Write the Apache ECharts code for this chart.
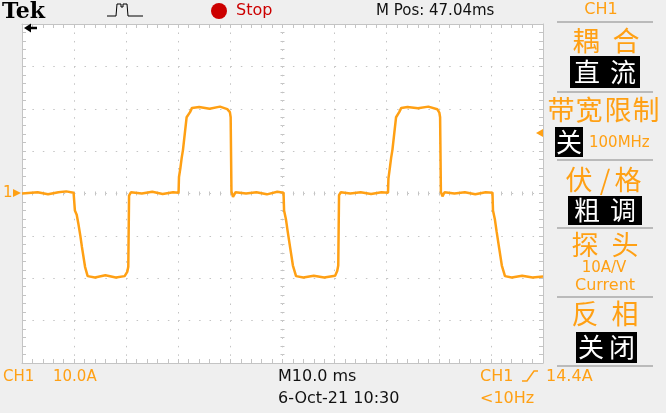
<!DOCTYPE html>
<html><head><meta charset="utf-8">
<script src="https://cdn.jsdelivr.net/npm/echarts@6/dist/echarts.min.js"></script>
<style>html,body{margin:0;padding:0;background:#efefef;}#c{width:666px;height:413px;}</style>
</head><body><div id="c"></div>
<script>
// ---- data (time relative to screen centre, ms ; current, A) ----
const timeRangeMs = [-50, 50];
const timePerDivMs = 10;
const currentRangeA = [-40, 40];
const ampsPerDiv = 10;
const traceSamples = [
 [-50,0],[-47,0.3],[-45,-0.2],[-43,0.3],[-41.5,0.5],[-40.1,0.2],
 [-39.85,-4],[-39.5,-5],[-39.2,-7],[-38.8,-10],[-38.5,-12.6],[-37.9,-17.3],[-37.4,-19.5],
 [-36,-19.8],[-34,-19.3],[-32,-19.8],[-30.3,-19.5],[-29.8,-18.5],[-29.6,-17.3],[-29.45,-0.5],[-29.1,0.3],
 [-27,0],[-25,0.4],[-23,-0.1],[-21,0.3],[-19.95,0.2],
 [-19.87,3.9],[-19.6,6],[-19.35,8.4],[-19.1,10.3],[-18.4,18],[-17.75,19.2],[-17.37,20.2],
 [-16,20.4],[-14,20],[-12,20.5],[-10.6,19.9],[-10.1,19.2],[-9.95,18],[-9.8,0.5],[-9.5,-0.8],[-9,0.3],
 [-7,0],[-5,0.3],[-3,-0.2],[-1,0.4],[0.2,0.2],
 [0.3,-4],[0.65,-6],[1.0,-9],[1.5,-13],[2.0,-17],[2.6,-19.5],
 [4,-19.8],[6,-19.4],[8,-19.8],[10.1,-19.4],[10.5,-18.3],[10.7,-17],[10.85,-0.4],[11.2,0.3],
 [13,0],[15,0.3],[17,-0.1],[19,0.3],[20.25,0.2],
 [20.33,3.5],[20.6,6],[20.85,8.4],[21.1,10.3],[21.8,18],[22.4,19.2],[22.8,20.2],
 [24,20.4],[26,20.1],[28,20.5],[29.7,19.9],[30.1,19.1],[30.25,18],[30.4,0.4],[30.7,-0.7],[31.1,0.3],
 [33,0],[35,0.3],[37,-0.2],[39,0.3],[40.3,0.2],
 [40.4,-4],[40.75,-6],[41.1,-9],[41.6,-13],[42.1,-17],[42.7,-19.5],
 [44,-19.8],[46,-19.4],[48,-19.8],[50,-19.6]
];
const headerTexts = ['Tek', 'Stop', 'M Pos: 47.04ms', 'CH1'];
const footerTexts = ['CH1', '10.0A', 'M10.0 ms', '6-Oct-21 10:30', 'CH1', '14.4A', '<10Hz'];

// ---- styles ----
const ORANGE = '#FFA014';
const GRIDC = '#C4C4C4';
const SANS = '"DejaVu Sans", sans-serif';
const CJK = '"Noto Sans CJK SC", sans-serif';

function txt(text, x, y, size, color, align, extra) {
  return Object.assign({
    type: 'text', x: x, y: y, z: 100,
    style: Object.assign({
      text: text, fill: color, font: size + 'px ' + SANS,
      textAlign: align || 'left', align: align || 'left',
      textVerticalAlign: 'middle', verticalAlign: 'middle'
    }, extra && extra.style || {})
  }, extra && extra.el || {});
}
function cjk(chars, centers, y, size, color) {
  return chars.split('').map((ch, i) => ({
    type: 'text', x: centers[i], y: y, z: 100,
    style: { text: ch, fill: color, font: size + 'px ' + CJK,
      textAlign: 'center', align: 'center', textVerticalAlign: 'middle', verticalAlign: 'middle' }
  }));
}
function box(x, y, w, h) {
  return { type: 'rect', z: 90, shape: { x: x, y: y, width: w, height: h }, style: { fill: '#000' } };
}
function hline(x1, x2, y) {
  return { type: 'rect', z: 95, shape: { x: x1, y: y - 0.75, width: x2 - x1, height: 1.5 }, style: { fill: '#A9A9A9' } };
}

const elements = [].concat(
  [
    txt(headerTexts[0], 2, 12, 22, '#000', 'left', { style: { font: 'bold 22px "DejaVu Serif", serif' } }),
    { type: 'polyline', z: 100, shape: { points: [[107,16],[116,16],[117,4],[121,4],[121,7],[123,7],[123,4],[127,4],[128,16],[143,16]] },
      style: { stroke: '#000', lineWidth: 1, fill: null } },
    { type: 'circle', z: 100, shape: { cx: 219, cy: 11, r: 8 }, style: { fill: '#CC0000' } },
    txt(headerTexts[1], 236, 11, 16, '#CC0000'),
    txt(headerTexts[2], 376, 11, 15, '#111'),
    txt(headerTexts[3], 601, 10, 16, ORANGE, 'center'),
    // separators
    hline(557, 653, 22), hline(557, 653, 92), hline(557, 653, 160), hline(557, 653, 228), hline(557, 653, 297), hline(557, 653, 366),
    box(570, 56, 70, 32), box(555, 127, 28, 30), box(568, 196, 74, 29), box(576, 332, 61, 31),
    txt('100MHz', 589, 143, 15, ORANGE),
    txt('10A/V', 604, 268, 15, ORANGE, 'center'),
    txt('Current', 605, 286, 16, ORANGE, 'center'),
    // footer
    txt(footerTexts[0], 3, 377, 15, ORANGE),
    txt(footerTexts[1], 53, 377, 15, ORANGE),
    txt(footerTexts[2], 278, 377, 16, '#111'),
    txt(footerTexts[3], 278, 399, 16, '#111'),
    txt(footerTexts[4], 480, 377, 16, ORANGE),
    { type: 'polyline', z: 100, shape: { points: [[522,381],[527,381],[534,371],[538,371]] }, style: { stroke: ORANGE, lineWidth: 1.5, fill: null } },
    txt(footerTexts[5], 546, 377, 16, ORANGE),
    txt(footerTexts[6], 480, 399, 16, ORANGE),
    // markers
    txt('1', 3, 193, 15, ORANGE),
    { type: 'polygon', z: 100, shape: { points: [[13,189],[21,193],[13,197]] }, style: { fill: ORANGE } },
    { type: 'polygon', z: 100, shape: { points: [[536,133],[543,129],[543,137]] }, style: { fill: ORANGE } },
    { type: 'polygon', z: 100, shape: { points: [[24,28],[31,23.5],[31,32.5]] }, style: { fill: '#000' } },
    { type: 'line', z: 100, shape: { x1: 29, y1: 28, x2: 37, y2: 28 }, style: { stroke: '#000', lineWidth: 2.5 } }
  ],
  cjk('耦合', [586, 626], 41, 27, ORANGE),
  cjk('直流', [587, 623], 72, 26, '#fff'),
  cjk('带宽限制', [561, 589, 618, 646], 110, 27, ORANGE),
  cjk('关', [569], 142, 26, '#fff'),
  cjk('伏/格', [579, 605, 628], 180, 27, ORANGE),
  cjk('粗调', [587, 623], 210, 26, '#fff'),
  cjk('探头', [585, 625], 245, 27, ORANGE),
  cjk('反相', [585, 625], 314, 27, ORANGE),
  cjk('关闭', [591, 622], 347, 26, '#fff')
);

function borderX(pos) {
  return { type: 'value', gridIndex: 0, min: timeRangeMs[0], max: timeRangeMs[1], interval: timePerDivMs, position: pos,
    axisLine: { show: true, onZero: false, lineStyle: { color: GRIDC, width: 1 } },
    axisTick: { show: true, inside: true, length: 4, lineStyle: { color: GRIDC } },
    minorTick: { show: true, splitNumber: 5, length: 4, lineStyle: { color: GRIDC } },
    axisLabel: { show: false },
    splitLine: { show: pos === 'bottom', lineStyle: { color: GRIDC, type: [1.5, 6.97], width: 1 } } };
}
function centerX(inside) {
  return { type: 'value', gridIndex: 0, min: timeRangeMs[0], max: timeRangeMs[1], interval: timePerDivMs,
    axisLine: { show: false, onZero: true, onZeroAxisIndex: 0 },
    axisTick: { show: true, inside: inside, length: 2, lineStyle: { color: GRIDC } },
    minorTick: { show: true, splitNumber: 5, length: 2, lineStyle: { color: GRIDC } },
    axisLabel: { show: false }, splitLine: { show: false } };
}
function borderY(pos) {
  return { type: 'value', gridIndex: 0, min: currentRangeA[0], max: currentRangeA[1], interval: ampsPerDiv, position: pos,
    axisLine: { show: true, onZero: false, lineStyle: { color: GRIDC, width: 1 } },
    axisTick: { show: true, inside: true, length: 4, lineStyle: { color: GRIDC } },
    minorTick: { show: true, splitNumber: 5, length: 4, lineStyle: { color: GRIDC } },
    axisLabel: { show: false },
    splitLine: { show: pos === 'left', lineStyle: { color: GRIDC, type: [1.5, 8.92], width: 1 } } };
}
function centerY(inside) {
  return { type: 'value', gridIndex: 0, min: currentRangeA[0], max: currentRangeA[1], interval: ampsPerDiv,
    axisLine: { show: false, onZero: true, onZeroAxisIndex: 0 },
    axisTick: { show: true, inside: inside, length: 2, lineStyle: { color: GRIDC } },
    minorTick: { show: true, splitNumber: 5, length: 2, lineStyle: { color: GRIDC } },
    axisLabel: { show: false }, splitLine: { show: false } };
}

const chart = echarts.init(document.getElementById('c'), null, { renderer: 'canvas' });
chart.setOption({
  animation: false,
  backgroundColor: '#EFEFEF',
  grid: { left: 22, top: 24, width: 521, height: 339, show: true, backgroundColor: '#FFFFFF', borderWidth: 0 },
  xAxis: [borderX('bottom'), borderX('top'), centerX(true), centerX(false)],
  yAxis: [borderY('left'), borderY('right'), centerY(true), centerY(false)],
  series: [{
    type: 'line', xAxisIndex: 0, yAxisIndex: 0, data: traceSamples,
    showSymbol: false, symbol: 'none', lineStyle: { color: ORANGE, width: 2.5 }, z: 5, silent: true
  }],
  graphic: { elements: elements }
});
</script>
</body></html>
